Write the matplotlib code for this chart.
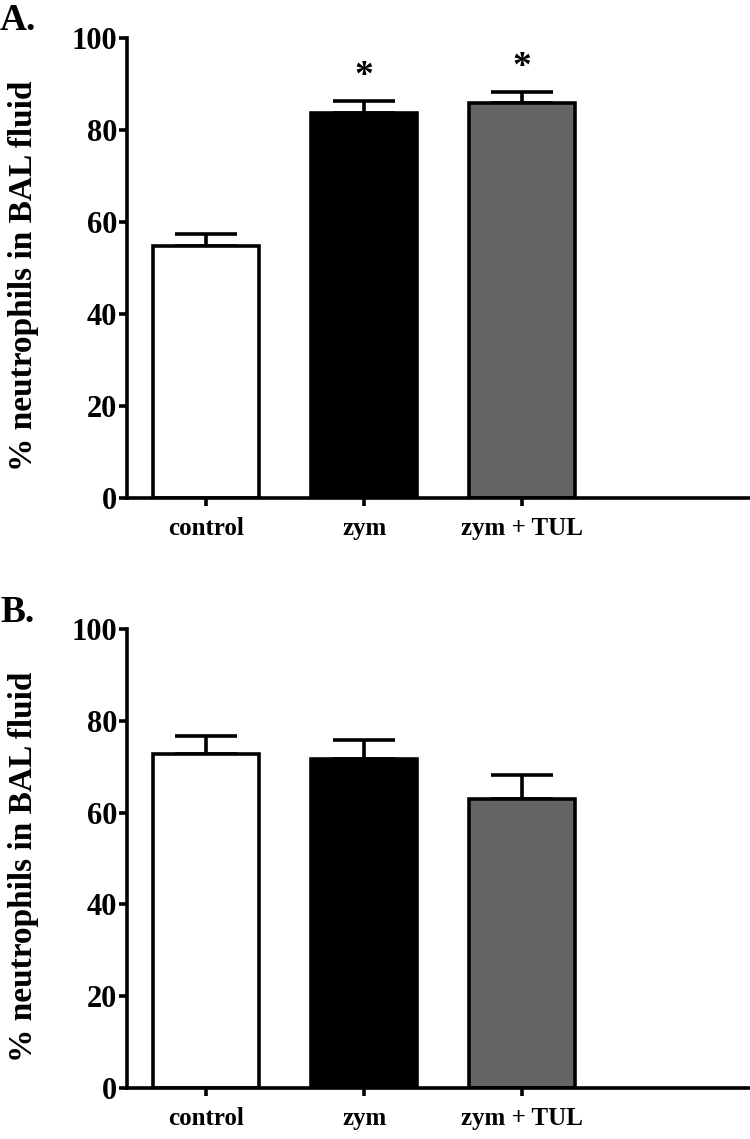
import matplotlib
matplotlib.use("Agg")
import matplotlib.pyplot as plt

categories = ["control", "zym", "zym + TUL"]
values_a = [54.8, 83.8, 85.9]
errors_a = [2.7, 2.6, 2.3]
signif_a = ["", "*", "*"]
values_b = [72.8, 71.7, 63.0]
errors_b = [3.8, 4.0, 5.1]
signif_b = ["", "", ""]
colors = ["#ffffff", "#000000", "#646464"]
yticks = [0, 20, 40, 60, 80, 100]
ylabel = "% neutrophils in BAL fluid"
panel_labels = ["A.", "B."]

plt.rcParams['font.family'] = ['Liberation Serif', 'DejaVu Serif']
plt.rcParams['font.weight'] = 'bold'

fig = plt.figure(figsize=(7.5, 11.39), dpi=100)
lw = 2.6

def draw(rect, values, errors, signif, label, label_y):
    ax = fig.add_axes(rect)
    x = list(range(len(categories)))
    ax.bar(x, values, width=0.67, color=colors, edgecolor="black", linewidth=lw, zorder=2)
    ax.errorbar(x, values, yerr=[[0]*len(errors), errors], fmt="none", ecolor="black",
                elinewidth=lw, capsize=22, capthick=lw, zorder=1)
    for xi, v, e, s in zip(x, values, errors, signif):
        if s:
            ax.text(xi, v + e + 1.5, s, ha="center", va="bottom", fontsize=27, fontweight="bold")
    ax.set_xlim(-0.5, 3.44)
    ax.set_ylim(0, 100)
    ax.set_yticks(yticks)
    ax.set_xticks(x)
    ax.set_xticklabels(categories, fontsize=18, fontweight="bold")
    ax.tick_params(axis="y", labelsize=22, width=lw, length=6, pad=1)
    ax.tick_params(axis="x", width=lw, length=6, pad=8)
    for t in ax.get_yticklabels():
        t.set_fontweight("bold")
    ax.spines["top"].set_visible(False)
    ax.spines["right"].set_visible(False)
    ax.spines["left"].set_linewidth(lw)
    ax.spines["bottom"].set_linewidth(lw)
    ax.patch.set_alpha(0)
    cy = rect[1] + rect[3] / 2 - 8/1139
    fig.text(24/750, cy, ylabel, rotation=90, ha="center", va="center",
             fontsize=24, fontweight="bold")
    fig.text(0.0, label_y, label, ha="left", va="baseline", fontsize=27, fontweight="bold")
    return ax

draw([0.1693, 0.5628, 0.8307, 0.4038], values_a, errors_a, signif_a, panel_labels[0], 1 - 30/1139)
draw([0.1693, 0.0448, 0.8307, 0.4030], values_b, errors_b, signif_b, panel_labels[1], 1 - 622/1139)

fig.savefig("out.png", dpi=100)
